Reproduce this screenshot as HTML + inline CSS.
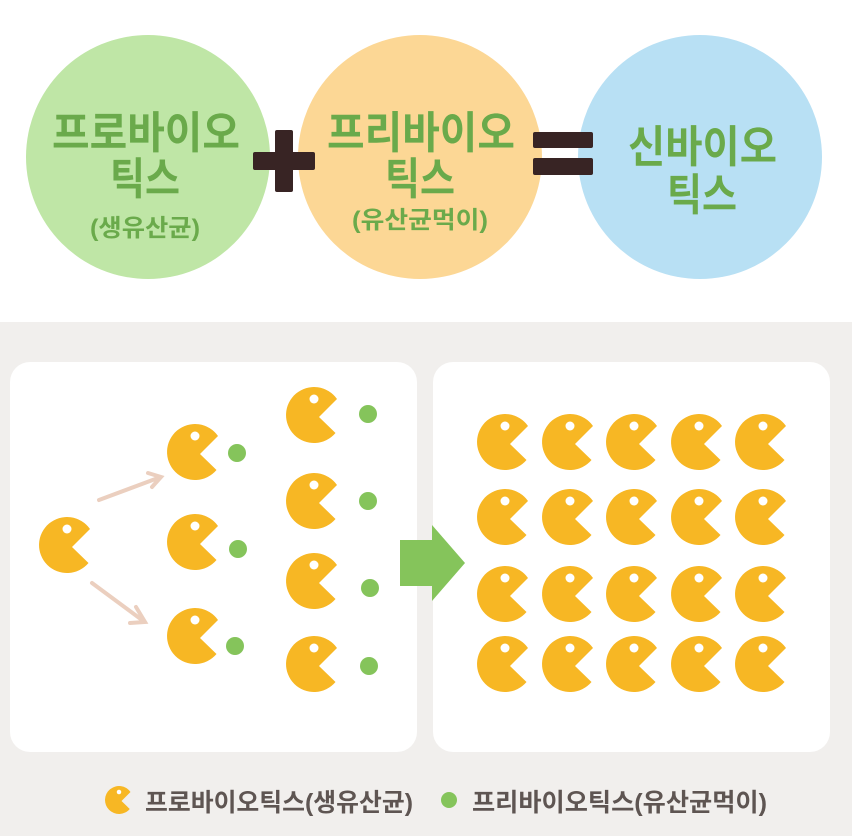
<!DOCTYPE html>
<html><head><meta charset="utf-8"><style>
html,body{margin:0;padding:0;background:#fff}
svg{display:block}
text{font-family:"Liberation Sans","Noto Sans CJK KR",sans-serif;font-weight:bold}
</style></head><body>
<svg width="852" height="836" viewBox="0 0 852 836" xmlns="http://www.w3.org/2000/svg">
<defs>
<g id="p"><path d="M5,2 L23,-16 A28,28 0 1 0 21.5,18 Z" fill="#f7b724"/><circle cx="0" cy="-16" r="4.5" fill="#fff"/></g>
</defs>
<rect x="0" y="0" width="852" height="322" fill="#fff"/>
<rect x="0" y="322" width="852" height="514" fill="#f1efed"/>
<!-- top circles -->
<circle cx="148" cy="157" r="122" fill="#bfe6a6"/>
<circle cx="420" cy="157" r="122" fill="#fcd795"/>
<circle cx="700" cy="157" r="122" fill="#b8e0f4"/>
<rect x="253" y="152" width="62" height="18" rx="2" fill="#382424"/>
<rect x="275" y="130" width="18" height="62" rx="2" fill="#382424"/>
<rect x="533" y="132" width="60" height="16" rx="2" fill="#382424"/>
<rect x="533" y="158" width="60" height="17" rx="2" fill="#382424"/>
<g fill="#6aaa4b">
<text x="52" y="148" font-size="44" textLength="188" lengthAdjust="spacingAndGlyphs">프로바이오</text>
<text x="110" y="194" font-size="44" textLength="70" lengthAdjust="spacingAndGlyphs">틱스</text>
<text x="90" y="236" font-size="24" textLength="110" lengthAdjust="spacingAndGlyphs">(생유산균)</text>
<text x="327" y="148" font-size="44" textLength="188" lengthAdjust="spacingAndGlyphs">프리바이오</text>
<text x="385" y="194" font-size="44" textLength="70" lengthAdjust="spacingAndGlyphs">틱스</text>
<text x="352" y="228" font-size="24" textLength="136" lengthAdjust="spacingAndGlyphs">(유산균먹이)</text>
<text x="628" y="162" font-size="44" textLength="149" lengthAdjust="spacingAndGlyphs">신바이오</text>
<text x="667" y="210" font-size="44" textLength="70" lengthAdjust="spacingAndGlyphs">틱스</text>
</g>
<!-- panels -->
<rect x="10" y="362" width="407" height="390" rx="20" fill="#fff"/>
<rect x="433" y="362" width="397" height="390" rx="20" fill="#fff"/>
<!-- arrows -->
<g stroke="#ebcfbf" stroke-width="4" fill="none" stroke-linecap="round">
<line x1="99" y1="500" x2="158" y2="478"/>
<polyline points="148,473 161,477 152,487"/>
<line x1="92" y1="583" x2="142" y2="620"/>
<polyline points="136,607 145,622 130,623"/>
</g>
<!-- big green arrow -->
<path d="M400,540 L432,540 L432,525 L465,563 L432,601 L432,586 L400,586 Z" fill="#85c45b"/>
<!-- pacmen left -->
<use href="#p" x="67" y="545"/>
<use href="#p" x="195" y="452"/><circle cx="237" cy="453" r="9" fill="#85c45b"/>
<use href="#p" x="195" y="542"/><circle cx="238" cy="549" r="9" fill="#85c45b"/>
<use href="#p" x="195" y="636"/><circle cx="235" cy="646" r="9" fill="#85c45b"/>
<use href="#p" x="314" y="415"/><circle cx="368" cy="414" r="9" fill="#85c45b"/>
<use href="#p" x="314" y="501"/><circle cx="368" cy="501" r="9" fill="#85c45b"/>
<use href="#p" x="314" y="581"/><circle cx="370" cy="588" r="9" fill="#85c45b"/>
<use href="#p" x="314" y="664"/><circle cx="369" cy="666" r="9" fill="#85c45b"/>
<!-- grid -->
<g>
<use href="#p" x="505" y="442"/><use href="#p" x="570" y="442"/><use href="#p" x="634" y="442"/><use href="#p" x="699" y="442"/><use href="#p" x="763" y="442"/>
<use href="#p" x="505" y="517"/><use href="#p" x="570" y="517"/><use href="#p" x="634" y="517"/><use href="#p" x="699" y="517"/><use href="#p" x="763" y="517"/>
<use href="#p" x="505" y="594"/><use href="#p" x="570" y="594"/><use href="#p" x="634" y="594"/><use href="#p" x="699" y="594"/><use href="#p" x="763" y="594"/>
<use href="#p" x="505" y="664"/><use href="#p" x="570" y="664"/><use href="#p" x="634" y="664"/><use href="#p" x="699" y="664"/><use href="#p" x="763" y="664"/>
</g>
<!-- legend -->
<g transform="translate(119,800) scale(0.5)"><use href="#p"/></g>
<circle cx="449" cy="800" r="8" fill="#85c45b"/>
<g fill="#5e5552">
<text x="145" y="811" font-size="25" textLength="268" lengthAdjust="spacingAndGlyphs">프로바이오틱스(생유산균)</text>
<text x="472" y="811" font-size="25" textLength="295" lengthAdjust="spacingAndGlyphs">프리바이오틱스(유산균먹이)</text>
</g>
</svg>
</body></html>
